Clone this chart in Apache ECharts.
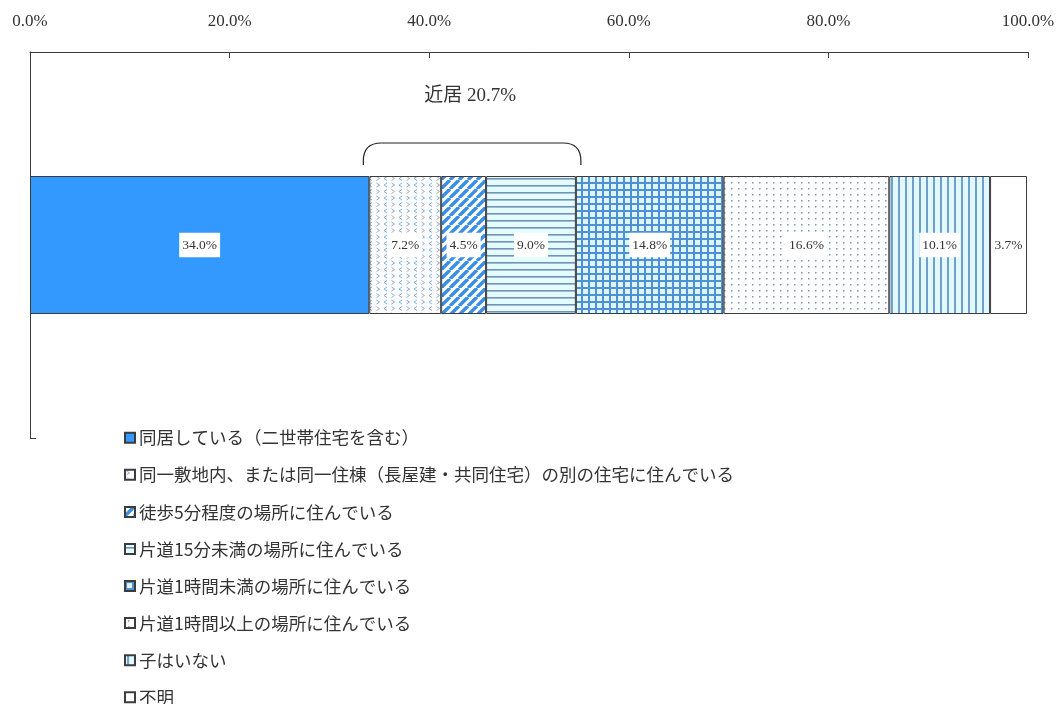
<!DOCTYPE html>
<html>
<head>
<meta charset="utf-8">
<script src="https://cdn.jsdelivr.net/npm/echarts@6/dist/echarts.min.js"></script>
<style>
  html, body { margin: 0; padding: 0; background: #fff; }
  #chart { width: 1062px; height: 704px; }
</style>
</head>
<body>
<div id="chart"></div>
<script>
// Where children live relative to their parents (share of respondents, %)
const categories = [''];
const seriesNames = [
  '同居している（二世帯住宅を含む）',
  '同一敷地内、または同一住棟（長屋建・共同住宅）の別の住宅に住んでいる',
  '徒歩5分程度の場所に住んでいる',
  '片道15分未満の場所に住んでいる',
  '片道1時間未満の場所に住んでいる',
  '片道1時間以上の場所に住んでいる',
  '子はいない',
  '不明'
];
const values = [34.0, 7.2, 4.5, 9.0, 14.8, 16.6, 10.1, 3.7];
// series grouped under the "近居" bracket (first and last index)
const nearbyGroup = [1, 3];
const nearbyTitle = '近居';

const SERIF = '"Liberation Serif", "Noto Sans CJK JP", serif';
const SANS = '"Noto Sans CJK JP", "Noto Sans", sans-serif';
const BAR_W = 138;

function tile(w, h, draw) {
  const c = document.createElement('canvas');
  c.width = w; c.height = h;
  const g = c.getContext('2d');
  draw(g, w, h);
  return { image: c, repeat: 'repeat' };
}

function chevron(g, x, y, dir) {
  // small "<" (dir = -1) or ">" (dir = 1) mark
  g.beginPath();
  g.moveTo(x - dir * 1.5, y - 2);
  g.lineTo(x + dir * 1.5, y);
  g.lineTo(x - dir * 1.5, y + 2);
  g.stroke();
}

const fills = [
  '#3399ff',
  // small chevrons
  tile(15, 13, (g) => {
    g.fillStyle = '#fafcff'; g.fillRect(0, 0, 15, 13);
    g.lineWidth = 1;
    g.strokeStyle = '#93a7bd';
    chevron(g, 3, 3, 1);
    chevron(g, 10.5, 9.5, -1);
    g.strokeStyle = '#7db7ec';
    chevron(g, 10.5, 3, -1);
    g.strokeStyle = '#a3b3c4';
    chevron(g, 3, 9.5, 1);
  }),
  // wide diagonal stripes
  tile(9, 9, (g) => {
    g.fillStyle = '#ffffff'; g.fillRect(0, 0, 9, 9);
    g.strokeStyle = '#3a8fe4'; g.lineWidth = 3.4;
    g.beginPath();
    for (let k = -9; k <= 18; k += 9) { g.moveTo(k, 9); g.lineTo(k + 9, 0); }
    g.stroke();
  }),
  // horizontal lines
  tile(8, 7, (g) => {
    g.fillStyle = '#e4fbff'; g.fillRect(0, 0, 8, 7);
    g.fillStyle = '#7193ba'; g.fillRect(0, 3, 8, 1.6);
  }),
  // grid
  tile(7, 7, (g) => {
    g.fillStyle = '#dcf6ff'; g.fillRect(0, 0, 7, 7);
    g.fillStyle = '#4f8fd6';
    g.fillRect(0, 0, 7, 2); g.fillRect(0, 0, 2, 7);
  }),
  // dots
  tile(7, 6, (g) => {
    g.fillStyle = '#fdfeff'; g.fillRect(0, 0, 7, 6);
    g.fillStyle = '#8596aa';
    g.fillRect(3, 2, 1.5, 1.5);
  }),
  // vertical lines
  tile(7, 8, (g) => {
    g.fillStyle = '#e2f8ff'; g.fillRect(0, 0, 7, 8);
    g.fillStyle = '#6f9fca'; g.fillRect(2, 0, 2, 8);
  }),
  '#ffffff'
];

const series = seriesNames.map((name, i) => ({
  name,
  type: 'bar',
  stack: 'total',
  barWidth: BAR_W,
  data: [values[i]],
  itemStyle: { color: fills[i], borderColor: '#3c3c3c', borderWidth: 1 },
  label: {
    show: true,
    position: 'inside',
    formatter: (p) => p.value.toFixed(1) + '%',
    backgroundColor: '#ffffff',
    padding: [6, 3, 5, 3],
    fontFamily: SERIF,
    fontSize: 13.5,
    color: '#333'
  },
  emphasis: { disabled: true }
}));

const chart = echarts.init(document.getElementById('chart'), null, { renderer: 'canvas' });

chart.setOption({
  animation: false,
  backgroundColor: '#ffffff',
  grid: { left: 30, right: 34, top: 52, bottom: 266, containLabel: false },
  xAxis: {
    type: 'value',
    position: 'top',
    min: 0, max: 100, interval: 20,
    axisLine: { show: true, lineStyle: { color: '#3c3c3c', width: 1 } },
    axisTick: { show: true, inside: true, length: 6, lineStyle: { color: '#3c3c3c' } },
    splitLine: { show: false },
    axisLabel: {
      margin: 22,
      fontFamily: SERIF, fontSize: 17, color: '#333',
      formatter: (v) => v.toFixed(1) + '%'
    }
  },
  yAxis: {
    type: 'category',
    data: categories,
    inverse: true,
    axisLine: { show: true, lineStyle: { color: '#3c3c3c', width: 1 } },
    axisTick: { show: true, inside: true, length: 6, lineStyle: { color: '#3c3c3c' } },
    axisLabel: { show: false }
  },
  legend: {
    orient: 'vertical',
    left: 124, top: 429,
    width: 700, height: 400,
    padding: 0,
    itemWidth: 10, itemHeight: 10,
    itemGap: 19.57,
    icon: 'rect',
    selectedMode: false,
    textStyle: { fontFamily: SANS, fontSize: 17.5, lineHeight: 17, color: '#333', padding: [0, 0, 0, -1] },
    data: seriesNames
  },
  series
});

// Bracket over the nearby-residence segments, placed from the axis scales
(function drawBracket() {
  let start = 0;
  for (let i = 0; i < nearbyGroup[0]; i++) start += values[i];
  let total = 0;
  for (let i = nearbyGroup[0]; i <= nearbyGroup[1]; i++) total += values[i];
  const end = start + total;

  const pStart = chart.convertToPixel({ gridIndex: 0 }, [start, 0]);
  const pEnd = chart.convertToPixel({ gridIndex: 0 }, [end, 0]);
  const barTop = pStart[1] - BAR_W / 2;

  const x0 = pStart[0] - 6, x1 = pEnd[0] + 5;
  const yb = barTop - 11, yt = barTop - 33, r = 18;
  const stroke = { stroke: '#222', lineWidth: 1.2, fill: null };

  chart.setOption({
    graphic: [
      { type: 'line', silent: true, shape: { x1: x0, y1: yb, x2: x0, y2: yt + r }, style: stroke },
      { type: 'bezierCurve', silent: true,
        shape: { x1: x0, y1: yt + r, cpx1: x0, cpy1: yt, x2: x0 + r, y2: yt }, style: stroke },
      { type: 'line', silent: true, shape: { x1: x0 + r, y1: yt, x2: x1 - r, y2: yt }, style: stroke },
      { type: 'bezierCurve', silent: true,
        shape: { x1: x1 - r, y1: yt, cpx1: x1, cpy1: yt, x2: x1, y2: yt + r }, style: stroke },
      { type: 'line', silent: true, shape: { x1: x1, y1: yt + r, x2: x1, y2: yb }, style: stroke },
      {
        type: 'text',
        silent: true,
        x: (x0 + x1) / 2 - 2,
        y: barTop - 80,
        style: {
          text: nearbyTitle + ' ' + total.toFixed(1) + '%',
          font: '19px ' + SERIF,
          fill: '#333',
          align: 'center',
          verticalAlign: 'middle'
        }
      }
    ]
  });
})();
</script>
</body>
</html>
